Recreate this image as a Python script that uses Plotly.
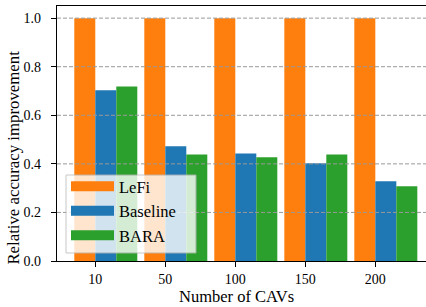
import plotly.graph_objects as go

categories = ["10", "50", "100", "150", "200"]
lefi = [1.0, 1.0, 1.0, 1.0, 1.0]
baseline = [0.703, 0.472, 0.443, 0.402, 0.328]
bara = [0.719, 0.439, 0.427, 0.439, 0.308]
y_ticks = [0.0, 0.2, 0.4, 0.6, 0.8, 1.0]

series = [("LeFi", lefi, "#ff7f0e"), ("Baseline", baseline, "#1f77b4"), ("BARA", bara, "#2ca02c")]
W = 0.3
xpos = list(range(len(categories)))

FONT = "'Liberation Serif', 'Times New Roman', 'DejaVu Serif', serif"

# plot area in pixels
L, T, B = 57, 6, 46
PW, PH = 426 - L, 307 - T - B
def px(x):
    return (x - L) / PW
def py(y):
    return (307 - B - y) / PH

fig = go.Figure()
for i, (name, vals, col) in enumerate(series):
    fig.add_trace(go.Bar(x=xpos, y=vals, width=W, offset=-W + i * W, marker=dict(color=col, line=dict(width=0)),
                         name=name, showlegend=False, hoverinfo="skip"))
for name, vals, col in series:
    fig.add_trace(go.Scatter(x=[None], y=[None], mode="lines", line=dict(color=col, width=12), name=name))

shapes = []
for v in y_ticks[1:]:
    shapes.append(dict(type="line", xref="paper", x0=0, x1=1, yref="y", y0=v, y1=v,
                       line=dict(color="#999999", width=1, dash="4px,2px"), layer="above"))

# legend frame (translucent white)
shapes.append(dict(type="rect", xref="paper", yref="paper", x0=px(66), x1=px(196), y0=py(253), y1=py(175),
                   fillcolor="#ffffff", opacity=0.8, line=dict(color="#bbbbbb", width=1), layer="above"))

fig.update_layout(
    width=426, height=307,
    margin=dict(l=L, r=0, t=T, b=B),
    plot_bgcolor="white", paper_bgcolor="white",
    font=dict(family=FONT, size=14, color="#000"),
    barmode="overlay",
    shapes=shapes,
    showlegend=True,
    legend=dict(x=px(66), y=py(253), xanchor="left", yanchor="bottom",
                bgcolor="rgba(0,0,0,0)", borderwidth=0, itemwidth=43,
                font=dict(family=FONT, size=16.5, color="#000")),
    xaxis=dict(range=[-0.547, 4.724], tickvals=xpos, ticktext=categories, showgrid=False, zeroline=False,
               showline=True, linecolor="#000", linewidth=1.2, mirror=True, ticks="outside", ticklen=5,
               tickcolor="#000", tickfont=dict(family=FONT, size=14, color="#000")),
    yaxis=dict(range=[0, 1.05], tickvals=y_ticks, ticktext=[f"{v:.1f}" for v in y_ticks], showgrid=False,
               zeroline=False, showline=True, linecolor="#000", linewidth=1.2, ticks="outside", ticklen=5,
               tickcolor="#000", tickfont=dict(family=FONT, size=14, color="#000"), ticklabelstandoff=7),
    annotations=[
        dict(text="Number of CAVs", xref="paper", yref="paper", x=px(236.5), y=py(296),
             xanchor="center", yanchor="middle", showarrow=False, font=dict(family=FONT, size=16.5)),
        dict(text="Relative accuracy improvement", xref="paper", yref="paper", x=px(14), y=py(157.6),
             xanchor="center", yanchor="middle", textangle=-90, showarrow=False, font=dict(family=FONT, size=16.8)),
    ],
)
fig.write_html("out.html", config={"displayModeBar": False},
               post_script="document.body.style.margin='0px';")
